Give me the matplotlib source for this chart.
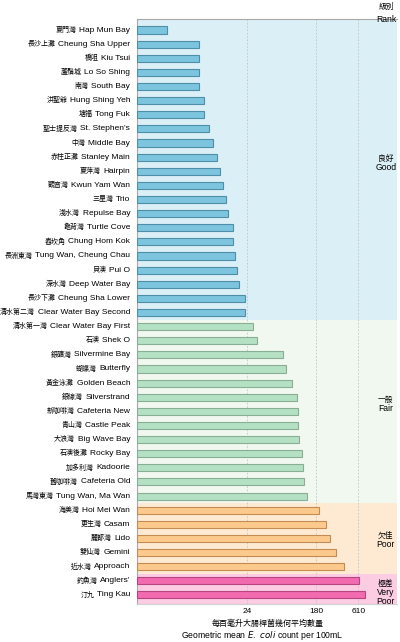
import numpy as np
import matplotlib
matplotlib.use("Agg")
import matplotlib.pyplot as plt

plt.rcParams["font.family"] = ["Liberation Sans", "Noto Sans CJK TC", "DejaVu Sans"]

# ====== data ======
names_zh = [
    "夏門灣", "長沙上灘", "橋咀", "蘆鬚城", "南灣", "洪聖爺", "塘福", "聖士提反灣",
    "中灣", "赤柱正灘", "夏萍灣", "觀音灣", "三星灣", "淺水灣", "龜背灣", "舂坎角",
    "長洲東灣", "貝澳", "深水灣", "長沙下灘", "清水第二灣",
    "清水第一灣", "石澳", "銀礦灣", "蝴蝶灣", "黃金泳灘", "銀線灣", "新咖啡灣",
    "青山灣", "大浪灣", "石澳後灘", "加多利灣", "舊咖啡灣", "馬灣東灣",
    "海美灣", "更生灣", "麗都灣", "雙仙灣", "近水灣",
    "釣魚灣", "汀九",
]
names_en = [
    "Hap Mun Bay", "Cheung Sha Upper", "Kiu Tsui", "Lo So Shing", "South Bay",
    "Hung Shing Yeh", "Tong Fuk", "St. Stephen's", "Middle Bay", "Stanley Main",
    "Hairpin", "Kwun Yam Wan", "Trio", "Repulse Bay", "Turtle Cove",
    "Chung Hom Kok", "Tung Wan, Cheung Chau", "Pui O", "Deep Water Bay",
    "Cheung Sha Lower", "Clear Water Bay Second",
    "Clear Water Bay First", "Shek O", "Silvermine Bay", "Butterfly",
    "Golden Beach", "Silverstrand", "Cafeteria New", "Castle Peak",
    "Big Wave Bay", "Rocky Bay", "Kadoorie", "Cafeteria Old", "Tung Wan, Ma Wan",
    "Hoi Mei Wan", "Casam", "Lido", "Gemini", "Approach",
    "Anglers'", "Ting Kau",
]
ecoli = [
    1.35, 5, 5, 5, 5, 6, 6, 7, 8, 9, 10, 11, 12, 13, 15, 15, 16, 17, 18, 22, 22,
    28, 31, 67, 73, 87, 101, 105, 105, 108, 118, 121, 124, 135,
    196, 234, 270, 321, 405,
    626, 744,
]
ranks_zh = ["良好", "一般", "欠佳", "極差"]
ranks_en = ["Good", "Fair", "Poor", "Very\nPoor"]
rank_counts = [21, 13, 5, 2]
ticks = [24, 180, 610]

# colours per rank: background, bar, edge
bg_cols = ["#dbeff6", "#f1f8ef", "#feead2", "#fccce3"]
bar_cols = ["#7dc4df", "#b4e0c3", "#fdca8d", "#f26bb1"]
edge_cols = ["#4f8ea9", "#88ae94", "#c48c52", "#b8457f"]

# ====== figure ======
fig = plt.figure(figsize=(4, 6.42), dpi=100)
ax = fig.add_axes([0.3425, 0.0592, 0.65, 0.9112])

y = np.arange(len(names_en))
top, bottom = -0.78, len(names_en) - 1 + 0.64

start = 0
bars_c, edges_c = [], []
for i, n in enumerate(rank_counts):
    lo = top if i == 0 else start - 0.5
    hi = bottom if i == len(rank_counts) - 1 else start + n - 0.5
    ax.axhspan(lo, hi, color=bg_cols[i], zorder=0, lw=0)
    bars_c += [bar_cols[i]] * n
    edges_c += [edge_cols[i]] * n
    start += n

ax.barh(y, ecoli, height=0.5, left=1, color=bars_c, edgecolor=edges_c,
        linewidth=0.8, zorder=3)

ax.set_xscale("log")
ax.set_xlim(1, 1860)
ax.set_ylim(bottom, top)

for t in ticks:
    ax.axvline(t, color="#b9c6cc", lw=0.6, ls=(0, (2, 2)), zorder=1)

ax.set_yticks([])
ax.set_xticks(ticks)
ax.set_xticklabels([str(t) for t in ticks], fontsize=6)
ax.xaxis.set_minor_locator(matplotlib.ticker.NullLocator())
ax.tick_params(axis="x", length=0, pad=3)

ax.spines["right"].set_visible(False)
for s in ["left", "top", "bottom"]:
    ax.spines[s].set_color("#a8a8a8")
    ax.spines[s].set_linewidth(0.8)
ax.spines["bottom"].set_color("#d0d0d0")

# ====== beach labels (english + smaller chinese) ======
renderer = fig.canvas.get_renderer()
ytr = ax.get_yaxis_transform()
inv = ax.transAxes.inverted()
for yi, zh, en in zip(y, names_zh, names_en):
    t_en = ax.text(-0.026, yi, en, transform=ytr, ha="right", va="center",
                   fontsize=6.0, clip_on=False)
    bb = t_en.get_window_extent(renderer)
    x0 = inv.transform((bb.x0 - 2.5, 0))[0]
    ax.text(x0, yi, zh, transform=ytr, ha="right", va="center",
            fontsize=5.0, clip_on=False)

# ====== rank labels ======
rank_y = [9.5, 26.6, 36.2, 39.6]
for zh, en, ry in zip(ranks_zh, ranks_en, rank_y):
    ax.annotate(zh, (0.957, ry), xycoords=ytr, xytext=(0, 1),
                textcoords="offset points", ha="center", va="bottom",
                fontsize=5.6, zorder=4)
    ax.annotate(en, (0.957, ry), xycoords=ytr, xytext=(0, 1),
                textcoords="offset points", ha="center", va="top",
                fontsize=6.2, linespacing=1.0, zorder=4)
fig.text(0.965, 0.995, "級別", ha="center", va="top", fontsize=5.6)
fig.text(0.965, 0.977, "Rank", ha="center", va="top", fontsize=6.2)

# ====== x label ======
fig.text(0.67, 0.0285, "每百毫升大腸桿菌幾何平均數量", ha="center", va="center",
         fontsize=5.8)
fig.text(0.655, 0.0065, r"Geometric mean $\it{E.\ coli}$ count per 100mL",
         ha="center", va="baseline", fontsize=6.2)

fig.savefig("out.png", dpi=100)
